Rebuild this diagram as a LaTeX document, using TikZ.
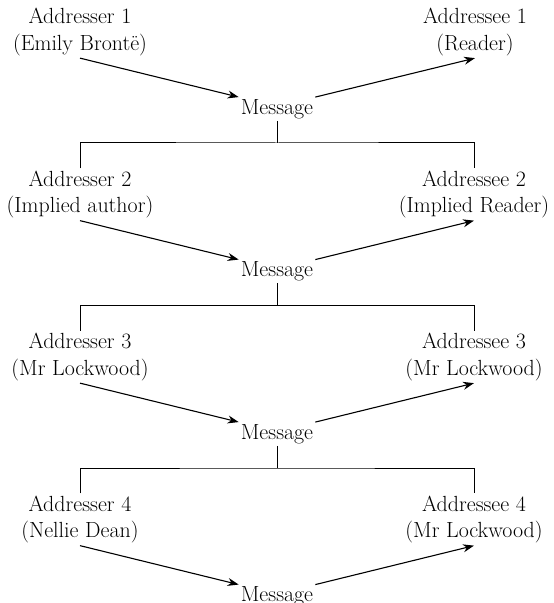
\documentclass[tikz,border=0pt]{standalone}
\usetikzlibrary{arrows.meta}
\begin{document}
\begin{tikzpicture}[x=1bp,y=-1bp,
  lbl/.style={align=center,inner sep=2bp,font=\fontsize{22}{27}\selectfont},
  msg/.style={inner sep=2bp,font=\fontsize{22}{27}\selectfont},
  arr/.style={line width=1.1bp,-{Stealth[length=11bp,width=8bp]}},
  bar/.style={line width=1bp}]
\useasboundingbox (0,0) rectangle (554,603);
% Block 1
\node[lbl] (L1) at (80,32) {Addresser 1\\(Emily Brontë)};
\node[lbl] (R1) at (475,32) {Addressee 1\\(Reader)};
\node[msg] (M1) at (277,109) {Message};
\draw[arr] (L1.south) -- (M1.north west);
\draw[arr] (M1.north east) -- (R1.south);
% Block 2
\node[lbl] (L2) at (80,194.5) {Addresser 2\\(Implied author)};
\node[lbl] (R2) at (474,194.5) {Addressee 2\\(Implied Reader)};
\node[msg] (M2) at (277,271.5) {Message};
\draw[arr] (L2.south) -- (M2.north west);
\draw[arr] (M2.north east) -- (R2.south);
% Block 3
\node[lbl] (L3) at (80,357) {Addresser 3\\(Mr Lockwood)};
\node[lbl] (R3) at (474,357) {Addressee 3\\(Mr Lockwood)};
\node[msg] (M3) at (277,434) {Message};
\draw[arr] (L3.south) -- (M3.north west);
\draw[arr] (M3.north east) -- (R3.south);
% Block 4
\node[lbl] (L4) at (80,519.5) {Addresser 4\\(Nellie Dean)};
\node[lbl] (R4) at (474,519.5) {Addressee 4\\(Mr Lockwood)};
\node[msg] (M4) at (277,596.5) {Message};
\draw[arr] (L4.south) -- (M4.north west);
\draw[arr] (M4.north east) -- (R4.south);
% Brackets
\coordinate (b1) at (277,143);
\coordinate (b2) at (277,305.5);
\coordinate (b3) at (277,468);
\draw[bar] (M1.south) -- (b1);
\draw[bar] (L2.north) |- (b1) -| (R2.north);
\draw[bar] (M2.south) -- (b2);
\draw[bar] (L3.north) |- (b2) -| (R3.north);
\draw[bar] (M3.south) -- (b3);
\draw[bar] (L4.north) |- (b3) -| (R4.north);
\end{tikzpicture}
\end{document}
